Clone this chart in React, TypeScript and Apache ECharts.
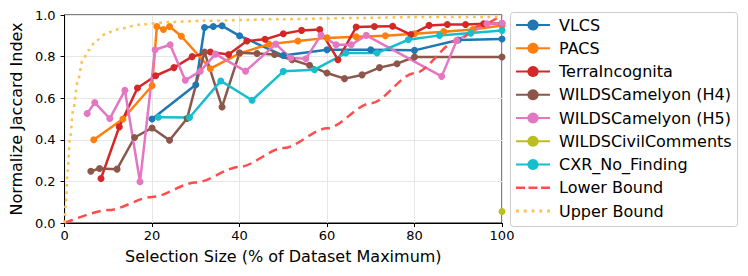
import React, { useEffect, useRef } from "react";
import * as echarts from "echarts";

const vlcsX = [20, 30, 32, 34, 36, 40, 50, 60, 70, 80, 90, 100];
const vlcsY = [0.5, 0.665, 0.94, 0.945, 0.948, 0.9, 0.805, 0.833, 0.833, 0.83, 0.88, 0.885];

const pacsX = [6.67, 13.33, 20, 21.1, 22.6, 24, 26.7, 33.33, 40, 46.67, 53.33, 60, 66.67, 73.33, 80, 86.67, 93.33, 100];
const pacsY = [0.4, 0.5, 0.66, 0.945, 0.93, 0.945, 0.898, 0.742, 0.815, 0.86, 0.875, 0.89, 0.895, 0.9, 0.91, 0.92, 0.93, 0.95];

const terraX = [8.33, 12.5, 16.67, 20.83, 25, 29.17, 33.33, 37.5, 41.67, 45.83, 50, 54.17, 58.33, 62.5, 66.67, 70.83, 75, 79.17, 83.33, 87.5, 91.67, 95.83, 100];
const terraY = [0.214, 0.462, 0.649, 0.708, 0.747, 0.8, 0.822, 0.81, 0.875, 0.883, 0.91, 0.926, 0.93, 0.785, 0.942, 0.945, 0.946, 0.906, 0.95, 0.954, 0.954, 0.958, 0.96];

const h4X = [6, 8, 12, 16, 20, 24, 28, 32, 36, 40, 44, 48, 52, 56, 60, 64, 68, 72, 76, 80, 100];
const h4Y = [0.249, 0.262, 0.259, 0.411, 0.457, 0.398, 0.502, 0.822, 0.558, 0.818, 0.815, 0.81, 0.785, 0.758, 0.721, 0.694, 0.712, 0.747, 0.766, 0.798, 0.798];

const h5X = [5.17, 6.9, 10.34, 13.79, 17.24, 20.69, 24.14, 27.59, 31.03, 34.48, 41.38, 48.28, 51.72, 55.17, 58.62, 62.07, 65.52, 68.97, 86.21, 89.66, 96.55, 100];
const h5Y = [0.526, 0.579, 0.502, 0.638, 0.198, 0.833, 0.857, 0.686, 0.73, 0.812, 0.73, 0.86, 0.793, 0.79, 0.903, 0.857, 0.857, 0.902, 0.705, 0.878, 0.958, 0.96];

const civilX = [100];
const civilY = [0.055];

const cxrX = [21.43, 28.57, 35.71, 42.86, 50, 57.14, 64.29, 71.43, 78.57, 85.71, 92.86, 100];
const cxrY = [0.508, 0.507, 0.683, 0.59, 0.729, 0.737, 0.817, 0.817, 0.881, 0.902, 0.913, 0.926];

const lowerX = [0, 10, 20, 30, 40, 50, 60, 70, 80, 90, 95, 100];
const lowerY = [0, 0.062, 0.125, 0.195, 0.27, 0.36, 0.455, 0.575, 0.72, 0.88, 0.95, 1.0];

const upperX = [0, 0.3, 0.7, 1.2, 2, 3, 4.1, 5.5, 7.2, 9.5, 11.7, 17.7, 23.8, 31.7, 50, 68, 80, 100];
const upperY = [0, 0.1, 0.25, 0.4, 0.55, 0.68, 0.78, 0.83, 0.877, 0.91, 0.93, 0.955, 0.966, 0.972, 0.98, 0.986, 0.99, 0.99];

const xTicks = [0, 20, 40, 60, 80, 100];
const yTicks = [0, 0.2, 0.4, 0.6, 0.8, 1.0];

const names = [
  "VLCS",
  "PACS",
  "TerraIncognita",
  "WILDSCamelyon (H4)",
  "WILDSCamelyon (H5)",
  "WILDSCivilComments",
  "CXR_No_Finding",
  "Lower Bound",
  "Upper Bound",
];
const colors = ["#1f77b4", "#ff7f0e", "#d62728", "#8c564b", "#e377c2", "#bcbd22", "#17becf", "#ff4d4d", "#ffc04d"];

const zip = (xs: number[], ys: number[]) => xs.map((x, i) => [x, ys[i]]);

const dashIcon = "path://M0,0h9v2.5h-9zM12.5,0h9v2.5h-9zM25,0h9v2.5h-9z";
const dotIcon = "path://M0,0h2.6v2.6h-2.6zM7.3,0h2.6v2.6h-2.6zM14.6,0h2.6v2.6h-2.6zM21.9,0h2.6v2.6h-2.6zM29.2,0h2.6v2.6h-2.6z";

export default function App() {
  const ref = useRef<HTMLDivElement>(null);
  useEffect(() => {
    if (!ref.current) return;
    const chart = echarts.init(ref.current, undefined, { renderer: "svg" });
    const font = "DejaVu Sans";
    const dataSets = [
      zip(vlcsX, vlcsY),
      zip(pacsX, pacsY),
      zip(terraX, terraY),
      zip(h4X, h4Y),
      zip(h5X, h5Y),
      zip(civilX, civilY),
      zip(cxrX, cxrY),
    ];
    const series: any[] = dataSets.map((d, i) => ({
      name: names[i],
      type: "line",
      data: d,
      symbol: "circle",
      symbolSize: 7,
      showAllSymbol: true,
      lineStyle: { width: 2.5, color: colors[i] },
      itemStyle: { color: colors[i] },
      emphasis: { disabled: true },
    }));
    series.push({
      name: names[7],
      type: "line",
      data: zip(lowerX, lowerY),
      showSymbol: false,
      symbol: "none",
      smooth: 0.3,
      smoothMonotone: "x",
      lineStyle: { width: 2.5, color: colors[7], type: [9, 5.5] },
      itemStyle: { color: colors[7] },
      emphasis: { disabled: true },
    });
    series.push({
      name: names[8],
      type: "line",
      data: zip(upperX, upperY),
      showSymbol: false,
      symbol: "none",
      smooth: 0.3,
      smoothMonotone: "x",
      lineStyle: { width: 2.5, color: colors[8], type: [2.7, 4.6] },
      itemStyle: { color: colors[8] },
      emphasis: { disabled: true },
    });

    const legendData: any[] = names.map((n, i) =>
      i === 7 ? { name: n, icon: dashIcon } : i === 8 ? { name: n, icon: dotIcon } : { name: n }
    );

    chart.setOption({
      animation: false,
      backgroundColor: "#ffffff",
      textStyle: { fontFamily: font },
      grid: {
        left: 60,
        right: 246,
        top: 15,
        bottom: 53,
        show: true,
        borderColor: "#000",
        borderWidth: 1,
        backgroundColor: "transparent",
      },
      graphic: [
        {
          type: "rect",
          z: 1,
          silent: true,
          shape: { x: 510.5, y: 12.5, width: 227, height: 214, r: 3 },
          style: { fill: "rgba(255,255,255,0.8)", stroke: "#cccccc", lineWidth: 1 },
        },
      ],
      legend: {
        orient: "vertical",
        left: 515,
        top: 17,
        z: 5,
        align: "left",
        padding: 0,
        itemWidth: 34,
        itemHeight: 14,
        itemGap: 7.25,
        symbolKeepAspect: true,
        textStyle: { fontFamily: font, fontSize: 16, color: "#000", padding: [0, 0, 0, 4] },
        data: legendData,
      },
      xAxis: {
        type: "value",
        min: 0,
        max: 100,
        interval: 20,
        name: "Selection Size (% of Dataset Maximum)",
        nameLocation: "middle",
        nameGap: 25,
        nameTextStyle: { fontFamily: font, fontSize: 16, color: "#000" },
        axisLine: { show: true, lineStyle: { color: "#000", width: 1 } },
        axisTick: { show: true, length: 4, lineStyle: { color: "#000" } },
        axisLabel: {
          fontFamily: font,
          fontSize: 13,
          color: "#000",
          margin: 6,
          formatter: (v: number) => (xTicks.includes(v) ? String(v) : ""),
        },
        splitLine: { show: true, lineStyle: { color: "#e6e6e6", width: 1 } },
      },
      yAxis: {
        type: "value",
        min: 0,
        max: 1,
        interval: 0.2,
        name: "Normalize Jaccard Index",
        nameLocation: "middle",
        nameGap: 40,
        nameTextStyle: { fontFamily: font, fontSize: 16, color: "#000" },
        axisLine: { show: true, lineStyle: { color: "#000", width: 1 } },
        axisTick: { show: true, length: 4, lineStyle: { color: "#000" } },
        axisLabel: {
          fontFamily: font,
          fontSize: 13,
          color: "#000",
          margin: 9,
          formatter: (v: number) => {
            const t = yTicks.find((y) => Math.abs(y - v) < 1e-6);
            return t === undefined ? "" : t.toFixed(1);
          },
        },
        splitLine: { show: true, lineStyle: { color: "#e6e6e6", width: 1 } },
      },
      series,
    });
    return () => chart.dispose();
  }, []);
  return (
    <div
      ref={ref}
      style={{ position: "fixed", left: 0, top: 0, width: 748, height: 276, background: "#fff" }}
    />
  );
}
